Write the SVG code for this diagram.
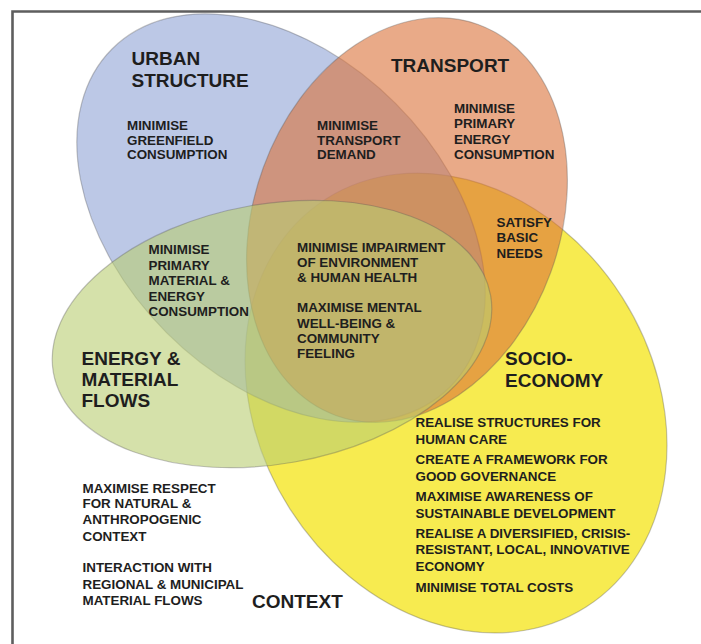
<svg xmlns="http://www.w3.org/2000/svg" width="701" height="644" viewBox="0 0 701 644">
<style>
.set{stroke:#5a5a5a;stroke-opacity:0.35;stroke-width:1.2}
.big{font-family:"Liberation Sans",Arial,sans-serif;font-weight:bold;font-size:19px;fill:#1e1e1e}
.sm{font-family:"Liberation Sans",Arial,sans-serif;font-weight:bold;font-size:13.4px;fill:#1e1e1e}
</style>
<rect x="0" y="0" width="701" height="644" fill="#ffffff"/>
<path d="M12.5,644 V11.5 H701" fill="none" stroke="#5e5e5e" stroke-width="2.6"/>
<g id="socio-economy">
<ellipse class="set" cx="0" cy="0" rx="242" ry="197" transform="translate(456 403) rotate(57.5)" fill="#F7EB50"/>
</g>
<g id="urban-structure">
<ellipse class="set" cx="0" cy="0" rx="239" ry="162" transform="translate(281 218) rotate(45)" fill="#8FA3D5" fill-opacity="0.6"/>
</g>
<g id="transport">
<ellipse class="set" cx="0" cy="0" rx="208" ry="153" transform="translate(407 220) rotate(-70)" fill="#DA7139" fill-opacity="0.6"/>
</g>
<g id="energy-material-flows">
<ellipse class="set" cx="0" cy="0" rx="222" ry="130" transform="translate(272 334) rotate(-10)" fill="#B9CD71" fill-opacity="0.6"/>
</g>
<g id="labels-urban">
<text class="big" x="131.5"><tspan x="131.5" y="64.5">URBAN</tspan><tspan x="131.5" y="86.5">STRUCTURE</tspan></text>
<text class="sm"><tspan x="127" y="130">MINIMISE</tspan><tspan x="127" y="144.5">GREENFIELD</tspan><tspan x="127" y="159">CONSUMPTION</tspan></text>
</g>
<g id="labels-transport">
<text class="big" x="391" y="71.5">TRANSPORT</text>
<text class="sm"><tspan x="317" y="130">MINIMISE</tspan><tspan x="317" y="144.5">TRANSPORT</tspan><tspan x="317" y="159">DEMAND</tspan></text>
<text class="sm"><tspan x="454" y="112.5">MINIMISE</tspan><tspan x="454" y="128">PRIMARY</tspan><tspan x="454" y="143.7">ENERGY</tspan><tspan x="454" y="159">CONSUMPTION</tspan></text>
<text class="sm"><tspan x="496.5" y="226.5">SATISFY</tspan><tspan x="496.5" y="242">BASIC</tspan><tspan x="496.5" y="257.5">NEEDS</tspan></text>
</g>
<g id="labels-centre">
<text class="sm"><tspan x="148.5" y="254">MINIMISE</tspan><tspan x="148.5" y="269.5">PRIMARY</tspan><tspan x="148.5" y="285">MATERIAL &amp;</tspan><tspan x="148.5" y="300.5">ENERGY</tspan><tspan x="148.5" y="316">CONSUMPTION</tspan></text>
<text class="sm"><tspan x="297" y="252.3">MINIMISE IMPAIRMENT</tspan><tspan x="297" y="267.3">OF ENVIRONMENT</tspan><tspan x="297" y="282.3">&amp; HUMAN HEALTH</tspan></text>
<text class="sm"><tspan x="297" y="312.3">MAXIMISE MENTAL</tspan><tspan x="297" y="327.5">WELL-BEING &amp;</tspan><tspan x="297" y="342.5">COMMUNITY</tspan><tspan x="297" y="357.7">FEELING</tspan></text>
</g>
<g id="labels-energy">
<text class="big"><tspan x="81.5" y="364.5">ENERGY &amp;</tspan><tspan x="81.5" y="385.5">MATERIAL</tspan><tspan x="81.5" y="406.5">FLOWS</tspan></text>
</g>
<g id="labels-socio">
<text class="big"><tspan x="505" y="365">SOCIO-</tspan><tspan x="505" y="386.5">ECONOMY</tspan></text>
<text class="sm"><tspan x="415.5" y="427.3">REALISE STRUCTURES FOR</tspan><tspan x="415.5" y="444">HUMAN CARE</tspan></text>
<text class="sm"><tspan x="415.5" y="464.3">CREATE A FRAMEWORK FOR</tspan><tspan x="415.5" y="481">GOOD GOVERNANCE</tspan></text>
<text class="sm"><tspan x="415.5" y="501">MAXIMISE AWARENESS OF</tspan><tspan x="415.5" y="517.5">SUSTAINABLE DEVELOPMENT</tspan></text>
<text class="sm"><tspan x="415.5" y="537.7">REALISE A DIVERSIFIED, CRISIS-</tspan><tspan x="415.5" y="554.3">RESISTANT, LOCAL, INNOVATIVE</tspan><tspan x="415.5" y="571">ECONOMY</tspan></text>
<text class="sm"><tspan x="415.5" y="591.7">MINIMISE TOTAL COSTS</tspan></text>
</g>
<g id="context">
<text class="sm"><tspan x="82.5" y="492.5">MAXIMISE RESPECT</tspan><tspan x="82.5" y="508.3">FOR NATURAL &amp;</tspan><tspan x="82.5" y="524">ANTHROPOGENIC</tspan><tspan x="82.5" y="540.5">CONTEXT</tspan></text>
<text class="sm"><tspan x="82.5" y="572">INTERACTION WITH</tspan><tspan x="82.5" y="589">REGIONAL &amp; MUNICIPAL</tspan><tspan x="82.5" y="605">MATERIAL FLOWS</tspan></text>
<text class="big" x="252" y="607.5">CONTEXT</text>
</g>
</svg>
